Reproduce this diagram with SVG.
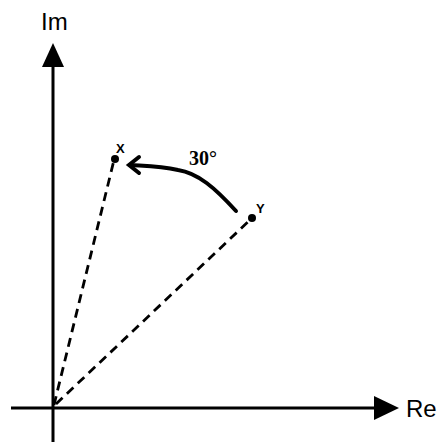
<svg xmlns="http://www.w3.org/2000/svg" width="441" height="443" viewBox="0 0 441 443">
<style>
.axis{stroke:#000;stroke-width:3;fill:none}
.dash{stroke:#000;stroke-width:2.8;fill:none;stroke-dasharray:9 6}
.lbl{font-family:"Liberation Sans",Arial,sans-serif;font-size:24px;fill:#000}
.pt{font-family:"Liberation Sans",Arial,sans-serif;font-size:13px;font-weight:bold;fill:#000}
.ang{font-family:"Liberation Serif","Times New Roman",serif;font-size:20px;font-weight:bold;fill:#000}
</style>
<rect width="441" height="443" fill="#fff"/>
<g id="axes">
<line class="axis" x1="53" y1="442" x2="53" y2="64"/>
<polygon points="53,43 42,67 64,67" fill="#000"/>
<line class="axis" x1="11" y1="408" x2="376" y2="408"/>
<polygon points="399,408 374,396 374,420" fill="#000"/>
<text class="lbl" x="41" y="30">Im</text>
<text class="lbl" x="406" y="417">Re</text>
</g>
<g id="connectors">
<line class="dash" x1="54" y1="405" x2="114" y2="160"/>
<line class="dash" x1="56" y1="404" x2="251" y2="219"/>
<path d="M236,211 C215,188 198,173 178,170 C160,166 145,166 130,165" stroke="#000" stroke-width="4" fill="none" stroke-linecap="round"/>
<path d="M139,157 L129,165 L139,173" stroke="#000" stroke-width="4" fill="none" stroke-linecap="round" stroke-linejoin="miter"/>
<text class="ang" x="189" y="165">30°</text>
</g>
<g id="X">
<circle cx="115" cy="159" r="4" fill="#000"/>
<text class="pt" x="116" y="153">X</text>
</g>
<g id="Y">
<circle cx="252" cy="218" r="4" fill="#000"/>
<text class="pt" x="256" y="213">Y</text>
</g>
</svg>
